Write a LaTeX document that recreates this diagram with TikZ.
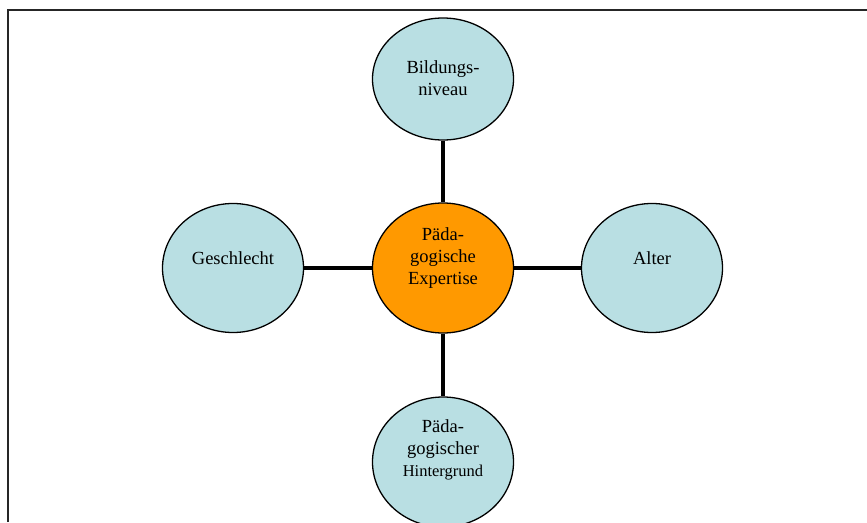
\documentclass[tikz,border=0pt]{standalone}
\usepackage{fontspec}
\setmainfont{Liberation Serif}
\usetikzlibrary{shapes.geometric}
\definecolor{hellblau}{RGB}{185,223,227}
\definecolor{kernorange}{RGB}{255,153,0}

\begin{document}
\begin{tikzpicture}[x=1pt,y=-1pt,
	kreis/.style={draw,ellipse,line width=1.3pt,fill=hellblau,minimum width=141pt,inner sep=0pt},
	schrift/.style={align=center,font=\fontsize{18.5}{22}\selectfont},
	balken/.style={line width=4pt}]
\useasboundingbox (0,0) rectangle (867,522);
\draw[line width=2pt,black!85] (8,522) -- (8,10) -- (867,10);
% Ellipsen
\node[kreis,minimum height=122pt] (bildung) at (443,79) {};
\node[kreis,minimum height=130pt,fill=kernorange] (expertise) at (443,268) {};
\node[kreis,minimum height=129pt] (geschlecht) at (233,268) {};
\node[kreis,minimum height=129pt] (alter) at (652,268) {};
\node[kreis,minimum height=130pt] (hintergrund) at (443,462) {};
% Verbindungen
\draw[balken] (bildung) -- (expertise);
\draw[balken] (geschlecht) -- (expertise);
\draw[balken] (expertise) -- (alter);
\draw[balken] (expertise) -- (hintergrund);
% Beschriftungen
\node[schrift] (bildungtext) at (443,78) {Bildungs-\\niveau};
\node[schrift] (expertisetext) at (443,258) {Päda-\\gogische\\Expertise};
\node[schrift] (geschlechttext) at (233,258) {Geschlecht};
\node[schrift] (altertext) at (652,258) {Alter};
\node[schrift] (hintergrundtext) at (443,450) {Päda-\\gogischer\\{\fontsize{16.5}{21}\selectfont Hintergrund}};
\end{tikzpicture}
\end{document}
